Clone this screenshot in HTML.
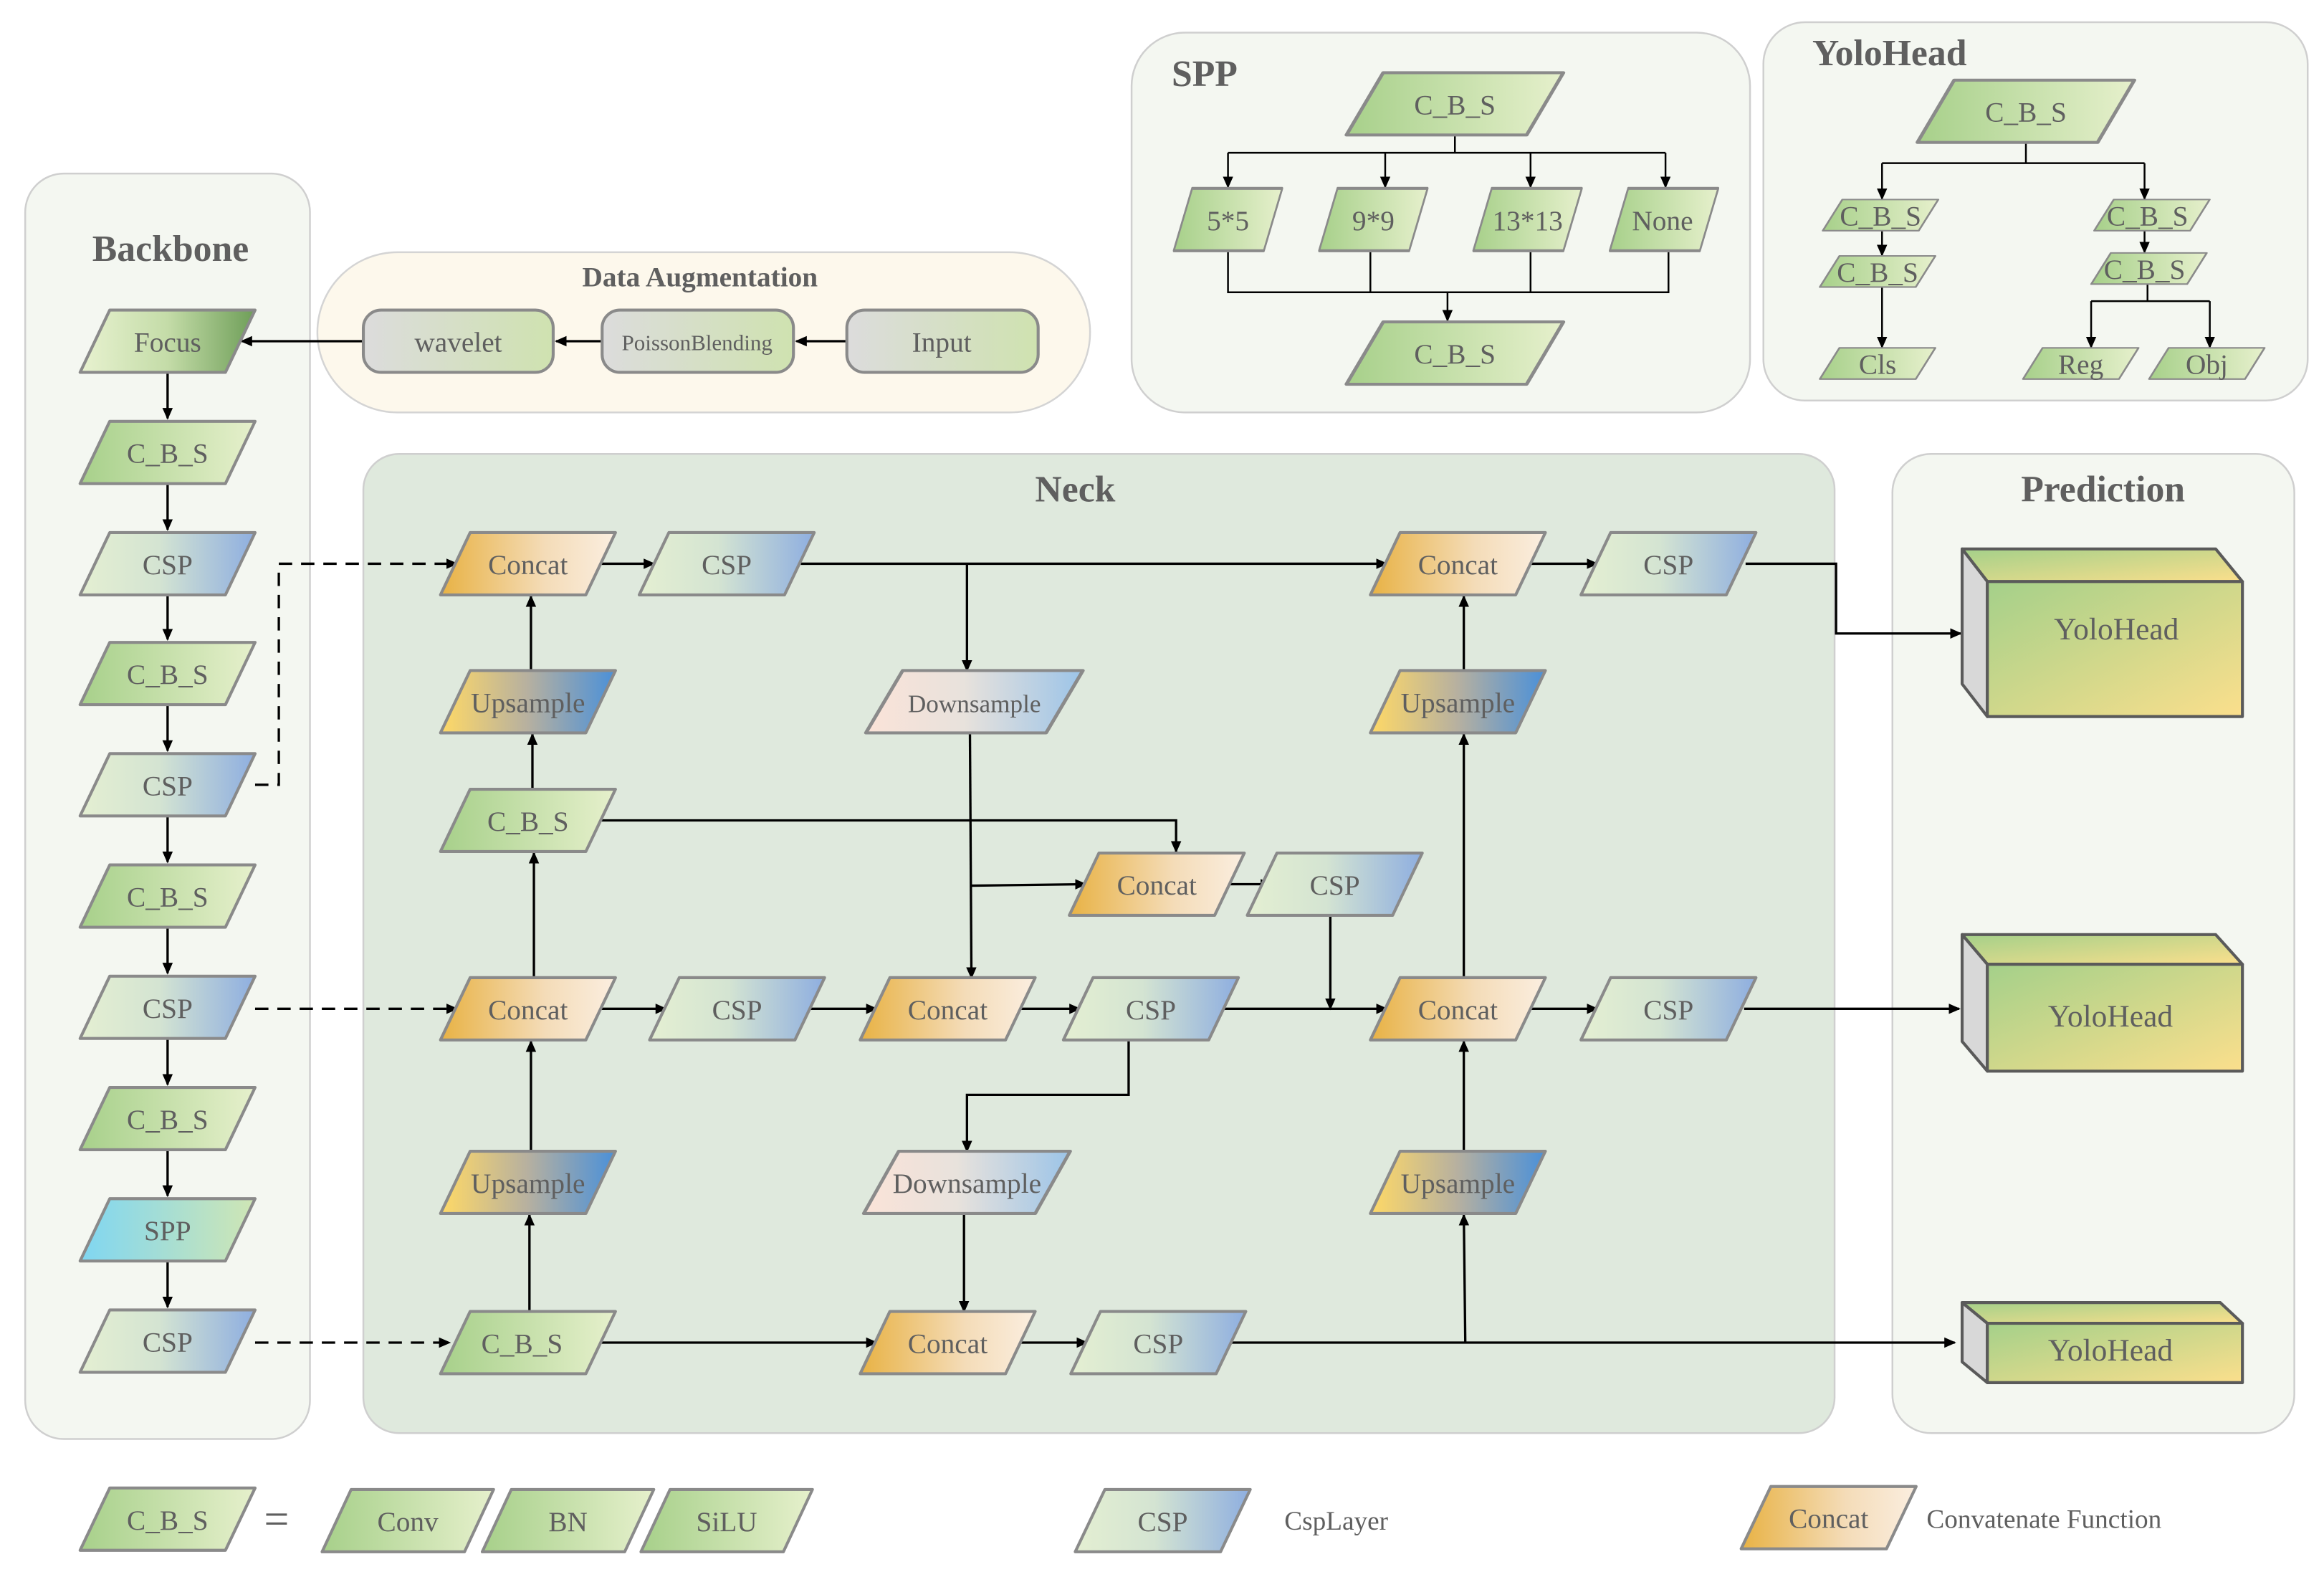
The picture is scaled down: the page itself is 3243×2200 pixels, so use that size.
<!DOCTYPE html>
<html><head><meta charset="utf-8"><style>
html,body{margin:0;padding:0;background:#fff;}
svg{display:block;}
svg text{font-family:"Liberation Serif","DejaVu Serif",serif;fill:#5f5f5f;}
</style></head><body>
<svg width="3243" height="2200" viewBox="0 0 1567 1063" preserveAspectRatio="none" xmlns="http://www.w3.org/2000/svg" font-family="'Liberation Serif', 'DejaVu Serif', serif">
<defs>
<linearGradient id="gC" x1="0" x2="1" y1="0" y2="0"><stop offset="0" stop-color="#a7d08a"/><stop offset="1" stop-color="#e6f0cc"/></linearGradient>
<linearGradient id="gS" x1="0" x2="1" y1="0" y2="0"><stop offset="0" stop-color="#e4efd2"/><stop offset="0.45" stop-color="#d4e4d2"/><stop offset="1" stop-color="#8eaee0"/></linearGradient>
<linearGradient id="gK" x1="0" x2="1" y1="0" y2="0"><stop offset="0" stop-color="#e8b244"/><stop offset="0.6" stop-color="#f4dcb8"/><stop offset="1" stop-color="#fbeee0"/></linearGradient>
<linearGradient id="gU" x1="0" x2="1" y1="0" y2="0"><stop offset="0" stop-color="#ffd966"/><stop offset="0.5" stop-color="#b6b0a0"/><stop offset="1" stop-color="#4a90d9"/></linearGradient>
<linearGradient id="gD" x1="0" x2="1" y1="0" y2="0"><stop offset="0" stop-color="#fbe3d8"/><stop offset="0.45" stop-color="#e8e2dc"/><stop offset="1" stop-color="#9cc4e8"/></linearGradient>
<linearGradient id="gF" x1="0" x2="1" y1="0" y2="0"><stop offset="0" stop-color="#e8f2d0"/><stop offset="0.5" stop-color="#c4dca8"/><stop offset="1" stop-color="#6e9e58"/></linearGradient>
<linearGradient id="gP" x1="0" x2="1" y1="0" y2="0"><stop offset="0" stop-color="#7fd6f2"/><stop offset="1" stop-color="#cfe6b4"/></linearGradient>
<linearGradient id="gW" x1="0" x2="1" y1="0" y2="0"><stop offset="0" stop-color="#dcdcdc"/><stop offset="1" stop-color="#cfe2b0"/></linearGradient>
<linearGradient id="gY" x1="0" x2="1" y1="0" y2="1"><stop offset="0" stop-color="#a4d08a"/><stop offset="1" stop-color="#fbdf8c"/></linearGradient>
<path id="pg" d="M-39,-21 H59 L39,21 H-59 Z"/>
<marker id="ar" markerWidth="8" markerHeight="8" refX="7" refY="4" orient="auto" markerUnits="userSpaceOnUse"><path d="M0,0.5 L8,4 L0,7.5 Z" fill="#000"/></marker>
</defs>

<rect x="17" y="117" width="192" height="853" rx="26" fill="#f4f7f1" stroke="#cfcfcf" stroke-width="1.2"/>
<rect x="214" y="170" width="521" height="108" rx="54" fill="#fdf8ec" stroke="#d4d4d4" stroke-width="1.2"/>
<rect x="763" y="22" width="417" height="256" rx="36" fill="#f4f7f1" stroke="#cfcfcf" stroke-width="1.2"/>
<rect x="1189" y="15" width="367" height="255" rx="28" fill="#f4f7f1" stroke="#cfcfcf" stroke-width="1.2"/>
<rect x="245" y="306" width="992" height="660" rx="24" fill="#dfe9dd" stroke="#cfcfcf" stroke-width="1.2"/>
<rect x="1276" y="306" width="271" height="660" rx="26" fill="#f4f7f1" stroke="#cfcfcf" stroke-width="1.2"/>

<g font-weight="bold">
<text x="115" y="176" font-size="25" text-anchor="middle" fill="#666">Backbone</text>
<text x="472" y="193" font-size="19" text-anchor="middle">Data Augmentation</text>
<text x="790" y="58" font-size="25">SPP</text>
<text x="1222" y="44" font-size="25">YoloHead</text>
<text x="725" y="338" font-size="25" text-anchor="middle">Neck</text>
<text x="1418" y="338" font-size="25" text-anchor="middle">Prediction</text>
</g>

<g stroke="#000" stroke-width="1.6" fill="none">
<path d="M113,251 V282" marker-end="url(#ar)"/>
<path d="M113,326 V357" marker-end="url(#ar)"/>
<path d="M113,401 V431" marker-end="url(#ar)"/>
<path d="M113,475 V506" marker-end="url(#ar)"/>
<path d="M113,550 V581" marker-end="url(#ar)"/>
<path d="M113,625 V656" marker-end="url(#ar)"/>
<path d="M113,700 V731" marker-end="url(#ar)"/>
<path d="M113,775 V806" marker-end="url(#ar)"/>
<path d="M113,850 V881" marker-end="url(#ar)"/>
<path d="M571,230 H537" marker-end="url(#ar)"/>
<path d="M406,230 H375" marker-end="url(#ar)"/>
<path d="M245,230 H163" marker-end="url(#ar)"/>
<path d="M172,529 H188 V380 H308" stroke-dasharray="9,6" marker-end="url(#ar)"/>
<path d="M172,680 H308" stroke-dasharray="9,6" marker-end="url(#ar)"/>
<path d="M172,905 H303" stroke-dasharray="9,6" marker-end="url(#ar)"/>
<path d="M396,380 H441" marker-end="url(#ar)"/>
<path d="M540,380 H935" marker-end="url(#ar)"/>
<path d="M652,380 V452" marker-end="url(#ar)"/>
<path d="M358,452 V402" marker-end="url(#ar)"/>
<path d="M359,532 V495" marker-end="url(#ar)"/>
<path d="M360,659 V575" marker-end="url(#ar)"/>
<path d="M358,776 V702" marker-end="url(#ar)"/>
<path d="M357,884 V819" marker-end="url(#ar)"/>
<path d="M405,553 H793 V574" marker-end="url(#ar)"/>
<path d="M654,494 L655,659" marker-end="url(#ar)"/>
<path d="M655,597 L732,596" marker-end="url(#ar)"/>
<path d="M821,596 H857" marker-end="url(#ar)"/>
<path d="M897,617 V680" marker-end="url(#ar)"/>
<path d="M396,680 H449" marker-end="url(#ar)"/>
<path d="M535,680 H591" marker-end="url(#ar)"/>
<path d="M680,680 H728" marker-end="url(#ar)"/>
<path d="M823,680 H935" marker-end="url(#ar)"/>
<path d="M761,701 V738 H652 V776" marker-end="url(#ar)"/>
<path d="M650,818 V884" marker-end="url(#ar)"/>
<path d="M398,905 H591" marker-end="url(#ar)"/>
<path d="M680,905 H733" marker-end="url(#ar)"/>
<path d="M822,905 H1318" marker-end="url(#ar)"/>
<path d="M988,905 L987,819" marker-end="url(#ar)"/>
<path d="M987,776 V702" marker-end="url(#ar)"/>
<path d="M987,659 V495" marker-end="url(#ar)"/>
<path d="M987,452 V402" marker-end="url(#ar)"/>
<path d="M1030,380 H1077" marker-end="url(#ar)"/>
<path d="M1030,680 H1077" marker-end="url(#ar)"/>
<path d="M1177,380 H1238 V427 H1322" marker-end="url(#ar)"/>
<path d="M1176,680 H1321" marker-end="url(#ar)"/>
</g>
<g stroke="#000" stroke-width="1.2" fill="none">
<path d="M981,91 V103 M828,103 H1123"/>
<path d="M828,103 V126" marker-end="url(#ar)"/>
<path d="M934,103 V126" marker-end="url(#ar)"/>
<path d="M1032,103 V126" marker-end="url(#ar)"/>
<path d="M1123,103 V126" marker-end="url(#ar)"/>
<path d="M828,170 V197 H1125 V170 M924,170 V197 M1032,170 V197"/>
<path d="M976,197 V216" marker-end="url(#ar)"/>
<path d="M1366,96 V110 H1446 M1366,110 H1269"/>
<path d="M1269,110 V134" marker-end="url(#ar)"/>
<path d="M1446,110 V134" marker-end="url(#ar)"/>
<path d="M1269,155 V172" marker-end="url(#ar)"/>
<path d="M1446,155 V170" marker-end="url(#ar)"/>
<path d="M1269,193 V234" marker-end="url(#ar)"/>
<path d="M1448,191 V203 H1410 M1448,203 H1490"/>
<path d="M1410,203 V234" marker-end="url(#ar)"/>
<path d="M1490,203 V234" marker-end="url(#ar)"/>
</g>

<g stroke="#8a8a8a" stroke-width="2" stroke-linejoin="round">
<use href="#pg" transform="translate(113,230)" fill="url(#gF)"/>
<use href="#pg" transform="translate(113,305)" fill="url(#gC)"/>
<use href="#pg" transform="translate(113,380)" fill="url(#gS)"/>
<use href="#pg" transform="translate(113,454)" fill="url(#gC)"/>
<use href="#pg" transform="translate(113,529)" fill="url(#gS)"/>
<use href="#pg" transform="translate(113,604)" fill="url(#gC)"/>
<use href="#pg" transform="translate(113,679)" fill="url(#gS)"/>
<use href="#pg" transform="translate(113,754)" fill="url(#gC)"/>
<use href="#pg" transform="translate(113,829)" fill="url(#gP)"/>
<use href="#pg" transform="translate(113,904)" fill="url(#gS)"/>
<use href="#pg" transform="translate(356,380)" fill="url(#gK)"/>
<use href="#pg" transform="translate(490,380)" fill="url(#gS)"/>
<use href="#pg" transform="translate(983,380)" fill="url(#gK)"/>
<use href="#pg" transform="translate(1125,380)" fill="url(#gS)"/>
<use href="#pg" transform="translate(356,473)" fill="url(#gU)"/>
<use href="#pg" transform="translate(657,473) scale(1.24,1)" fill="url(#gD)"/>
<use href="#pg" transform="translate(983,473)" fill="url(#gU)"/>
<use href="#pg" transform="translate(356,553)" fill="url(#gC)"/>
<use href="#pg" transform="translate(780,596)" fill="url(#gK)"/>
<use href="#pg" transform="translate(900,596)" fill="url(#gS)"/>
<use href="#pg" transform="translate(356,680)" fill="url(#gK)"/>
<use href="#pg" transform="translate(497,680)" fill="url(#gS)"/>
<use href="#pg" transform="translate(639,680)" fill="url(#gK)"/>
<use href="#pg" transform="translate(776,680)" fill="url(#gS)"/>
<use href="#pg" transform="translate(983,680)" fill="url(#gK)"/>
<use href="#pg" transform="translate(1125,680)" fill="url(#gS)"/>
<use href="#pg" transform="translate(356,797)" fill="url(#gU)"/>
<use href="#pg" transform="translate(652,797) scale(1.18,1)" fill="url(#gD)"/>
<use href="#pg" transform="translate(983,797)" fill="url(#gU)"/>
<use href="#pg" transform="translate(356,905)" fill="url(#gC)"/>
<use href="#pg" transform="translate(639,905)" fill="url(#gK)"/>
<use href="#pg" transform="translate(781,905)" fill="url(#gS)"/>
<use href="#pg" transform="translate(981,70) scale(1.24,1)" fill="url(#gC)"/>
<use href="#pg" transform="translate(828,148) scale(0.62,1)" fill="url(#gC)"/>
<use href="#pg" transform="translate(926,148) scale(0.62,1)" fill="url(#gC)"/>
<use href="#pg" transform="translate(1030,148) scale(0.62,1)" fill="url(#gC)"/>
<use href="#pg" transform="translate(1122,148) scale(0.62,1)" fill="url(#gC)"/>
<use href="#pg" transform="translate(981,238) scale(1.24,1)" fill="url(#gC)"/>
<use href="#pg" transform="translate(1366,75) scale(1.24,1)" fill="url(#gC)"/>
<use href="#pg" transform="translate(1268,145) scale(0.66,0.5)" fill="url(#gC)"/>
<use href="#pg" transform="translate(1266,183) scale(0.66,0.5)" fill="url(#gC)"/>
<use href="#pg" transform="translate(1451,145) scale(0.66,0.5)" fill="url(#gC)"/>
<use href="#pg" transform="translate(1449,181) scale(0.66,0.5)" fill="url(#gC)"/>
<use href="#pg" transform="translate(1266,245) scale(0.66,0.5)" fill="url(#gC)"/>
<use href="#pg" transform="translate(1403,245) scale(0.66,0.5)" fill="url(#gC)"/>
<use href="#pg" transform="translate(1488,245) scale(0.66,0.5)" fill="url(#gC)"/>
<use href="#pg" transform="translate(113,1024)" fill="url(#gC)"/>
<use href="#pg" transform="translate(275,1025) scale(0.98,1)" fill="url(#gC)"/>
<use href="#pg" transform="translate(383,1025) scale(0.98,1)" fill="url(#gC)"/>
<use href="#pg" transform="translate(490,1025) scale(0.98,1)" fill="url(#gC)"/>
<use href="#pg" transform="translate(784,1025)" fill="url(#gS)"/>
<use href="#pg" transform="translate(1233,1023)" fill="url(#gK)"/>
<rect x="245" y="209" width="128" height="42" rx="12" fill="url(#gW)"/>
<rect x="406" y="209" width="129" height="42" rx="12" fill="url(#gW)"/>
<rect x="571" y="209" width="129" height="42" rx="12" fill="url(#gW)"/>
</g>

<g stroke="#5a5a5a" stroke-width="2" stroke-linejoin="round">
<path d="M1323,370 H1494 L1512,392 H1340 Z" fill="url(#gY)"/>
<path d="M1323,370 L1340,392 V483 L1323,461 Z" fill="#d8d8d8"/>
<rect x="1340" y="392" width="172" height="91" fill="url(#gY)"/>
<path d="M1323,630 H1494 L1512,650 H1340 Z" fill="url(#gY)"/>
<path d="M1323,630 L1340,650 V722 L1323,702 Z" fill="#d8d8d8"/>
<rect x="1340" y="650" width="172" height="72" fill="url(#gY)"/>
<path d="M1323,878 H1497 L1512,892 H1340 Z" fill="url(#gY)"/>
<path d="M1323,878 L1340,892 V932 L1323,918 Z" fill="#d8d8d8"/>
<rect x="1340" y="892" width="172" height="40" fill="url(#gY)"/>
</g>

<g font-size="19" text-anchor="middle">
<text x="113" y="237">Focus</text>
<text x="113" y="312">C_B_S</text>
<text x="113" y="387">CSP</text>
<text x="113" y="461">C_B_S</text>
<text x="113" y="536">CSP</text>
<text x="113" y="611">C_B_S</text>
<text x="113" y="686">CSP</text>
<text x="113" y="761">C_B_S</text>
<text x="113" y="836">SPP</text>
<text x="113" y="911">CSP</text>
<text x="309" y="237">wavelet</text>
<text x="470" y="236" font-size="15">PoissonBlending</text>
<text x="635" y="237">Input</text>
<text x="356" y="387">Concat</text>
<text x="490" y="387">CSP</text>
<text x="983" y="387">Concat</text>
<text x="1125" y="387">CSP</text>
<text x="356" y="480">Upsample</text>
<text x="657" y="480" font-size="17">Downsample</text>
<text x="983" y="480">Upsample</text>
<text x="356" y="560">C_B_S</text>
<text x="780" y="603">Concat</text>
<text x="900" y="603">CSP</text>
<text x="356" y="687">Concat</text>
<text x="497" y="687">CSP</text>
<text x="639" y="687">Concat</text>
<text x="776" y="687">CSP</text>
<text x="983" y="687">Concat</text>
<text x="1125" y="687">CSP</text>
<text x="356" y="804">Upsample</text>
<text x="652" y="804">Downsample</text>
<text x="983" y="804">Upsample</text>
<text x="352" y="912">C_B_S</text>
<text x="639" y="912">Concat</text>
<text x="781" y="912">CSP</text>
<text x="981" y="77">C_B_S</text>
<text x="828" y="155">5*5</text>
<text x="926" y="155">9*9</text>
<text x="1030" y="155">13*13</text>
<text x="1121" y="155">None</text>
<text x="981" y="245">C_B_S</text>
<text x="1366" y="82">C_B_S</text>
<text x="1268" y="152">C_B_S</text>
<text x="1266" y="190">C_B_S</text>
<text x="1448" y="152">C_B_S</text>
<text x="1446" y="188">C_B_S</text>
<text x="1266" y="252">Cls</text>
<text x="1403" y="252">Reg</text>
<text x="1488" y="252">Obj</text>
<text x="1427" y="431" font-size="21">YoloHead</text>
<text x="1423" y="692" font-size="21">YoloHead</text>
<text x="1423" y="917" font-size="21">YoloHead</text>
<text x="113" y="1031">C_B_S</text>
<text x="275" y="1032">Conv</text>
<text x="383" y="1032">BN</text>
<text x="490" y="1032">SiLU</text>
<text x="784" y="1032">CSP</text>
<text x="1233" y="1030">Concat</text>
</g>
<text x="178" y="1034" font-size="30">=</text>
<text x="866" y="1031" font-size="18">CspLayer</text>
<text x="1299" y="1030" font-size="18">Convatenate Function</text>
</svg>
</body></html>
